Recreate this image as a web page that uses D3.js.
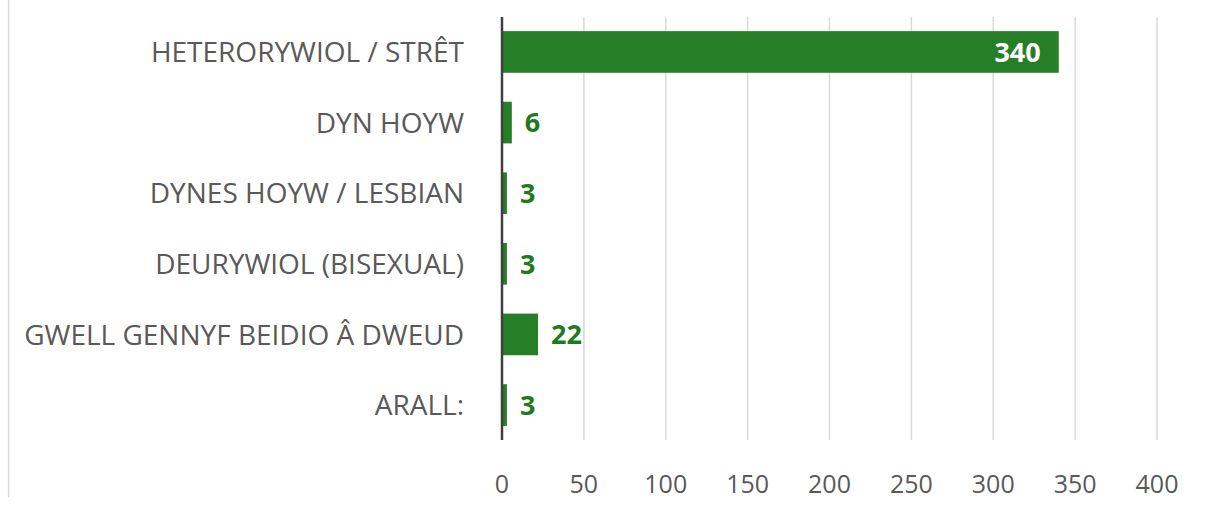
<!DOCTYPE html>
<html>
<head>
<meta charset="utf-8">
<script src="https://cdn.jsdelivr.net/npm/d3@7"></script>
<style>
  body { margin: 0; background: #fff; }
  text { font-family: "Open Sans", sans-serif; }
</style>
</head>
<body>
<script>
const categories = ["HETERORYWIOL / STRÊT", "DYN HOYW", "DYNES HOYW / LESBIAN", "DEURYWIOL (BISEXUAL)", "GWELL GENNYF BEIDIO Â DWEUD", "ARALL:"]
const counts = [340, 6, 3, 3, 22, 3]
const ticks = [0, 50, 100, 150, 200, 250, 300, 350, 400]

const width = 1205, height = 507
const svg = d3.select("body").append("svg")
    .attr("width", width)
    .attr("height", height)

// chart area border (left edge only visible in the crop)
svg.append("line")
    .attr("x1", 8.5).attr("x2", 8.5)
    .attr("y1", 0).attr("y2", 497)
    .attr("stroke", "#d9d9d9")
    .attr("stroke-width", 1.5)

const x = d3.scaleLinear().domain([0, 400]).range([502, 1157])
const y = d3.scaleBand().domain(categories).range([17, 440]).paddingInner(0.41).paddingOuter(0.2)

// gridlines
svg.append("g")
    .selectAll("line")
    .data(ticks.slice(1))
    .join("line")
    .attr("x1", d => x(d)).attr("x2", d => x(d))
    .attr("y1", 17).attr("y2", 440)
    .attr("stroke", "#d9d9d9")
    .attr("stroke-width", 1.5)

// tick labels
svg.append("g")
    .selectAll("text")
    .data(ticks)
    .join("text")
    .attr("x", d => x(d))
    .attr("y", 493)
    .attr("text-anchor", "middle")
    .attr("font-size", 25)
    .attr("fill", "#595959")
    .text(d => d)

// bars
svg.append("g")
    .selectAll("rect")
    .data(categories)
    .join("rect")
    .attr("x", x(0))
    .attr("y", d => y(d))
    .attr("width", (d, i) => x(counts[i]) - x(0))
    .attr("height", y.bandwidth())
    .attr("fill", "#267f26")

// zero axis line
svg.append("line")
    .attr("x1", x(0)).attr("x2", x(0))
    .attr("y1", 17).attr("y2", 440)
    .attr("stroke", "#404040")
    .attr("stroke-width", 2.5)

// category labels
svg.append("g")
    .selectAll("text")
    .data(categories)
    .join("text")
    .attr("x", 464)
    .attr("y", d => y(d) + y.bandwidth() / 2)
    .attr("dy", "0.36em")
    .attr("text-anchor", "end")
    .attr("font-size", 28)
    .attr("fill", "#595959")
    .text(d => d)

// value labels: big bar gets its label inside, others outside
svg.append("g")
    .selectAll("text")
    .data(categories)
    .join("text")
    .attr("x", (d, i) => counts[i] > 200 ? x(counts[i]) - 18 : x(counts[i]) + 13)
    .attr("y", d => y(d) + y.bandwidth() / 2)
    .attr("dy", "0.36em")
    .attr("text-anchor", (d, i) => counts[i] > 200 ? "end" : "start")
    .attr("font-size", 27)
    .attr("font-weight", "bold")
    .attr("fill", (d, i) => counts[i] > 200 ? "#ffffff" : "#1d7a1d")
    .text((d, i) => counts[i])
</script>
</body>
</html>
